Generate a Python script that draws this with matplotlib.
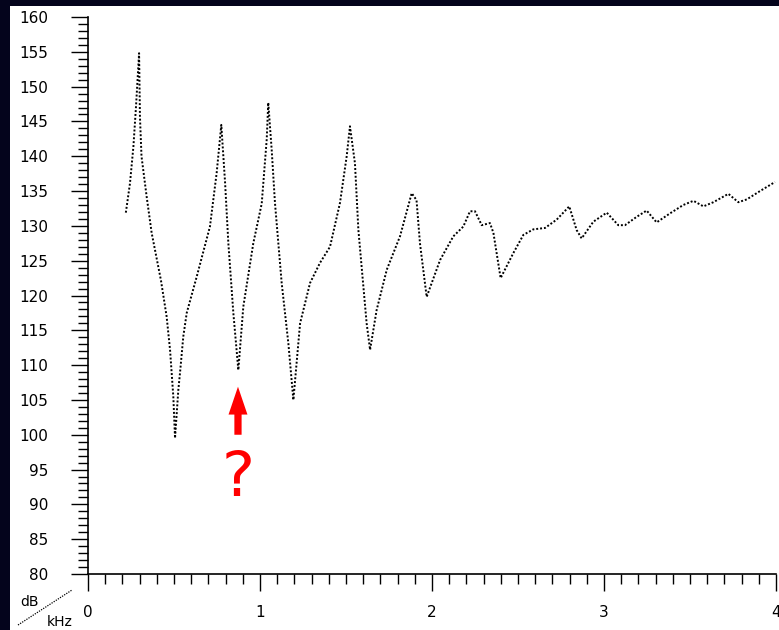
import matplotlib.pyplot as plt
import matplotlib.lines as mlines

# Data (kHz, dB)
freq = [0.22, 0.244, 0.264, 0.279, 0.297, 0.302, 0.311, 0.341, 0.37, 0.424, 0.457,
        0.477, 0.496, 0.506, 0.525, 0.535, 0.554, 0.574, 0.632, 0.709, 0.748, 0.775,
        0.797, 0.816, 0.845, 0.874, 0.903, 0.961, 1.01, 1.039, 1.048, 1.068, 1.087,
        1.126, 1.165, 1.194, 1.233, 1.291, 1.349, 1.407, 1.465, 1.504, 1.523, 1.552,
        1.572, 1.601, 1.62, 1.64, 1.678, 1.737, 1.814, 1.882, 1.91, 1.93, 1.969,
        2.047, 2.124, 2.182, 2.221, 2.25, 2.289, 2.337, 2.357, 2.399, 2.473, 2.531,
        2.589, 2.657, 2.725, 2.798, 2.841, 2.87, 2.938, 3.016, 3.083, 3.122, 3.19,
        3.248, 3.306, 3.384, 3.461, 3.52, 3.578, 3.636, 3.723, 3.781, 3.83, 3.907,
        3.994]
level = [131.9, 136.1, 141.4, 147.1, 154.8, 145.7, 140.0, 134.2, 129.0, 122.2, 117.0,
         112.2, 105.5, 99.5, 106.4, 108.9, 114.1, 117.5, 122.7, 129.9, 137.6, 144.5,
         136.2, 127.5, 117.5, 109.3, 118.4, 127.5, 133.2, 142.4, 147.7, 140.9, 133.3,
         121.8, 113.1, 105.0, 116.0, 121.8, 124.7, 127.0, 133.3, 140.0, 144.3, 139.0,
         129.4, 121.3, 116.0, 112.2, 117.9, 123.7, 128.5, 134.7, 133.7, 127.5, 119.8,
         125.1, 128.5, 129.9, 132.1, 132.1, 130.1, 130.4, 129.0, 122.5, 126.1, 128.7,
         129.5, 129.7, 130.9, 132.8, 129.4, 128.2, 130.6, 131.9, 130.1, 130.1, 131.3,
         132.2, 130.5, 131.8, 133.0, 133.6, 132.8, 133.4, 134.6, 133.4, 133.8, 135.0,
         136.3]

y_ticks = list(range(80, 161, 5))
x_ticks = [0, 1, 2, 3, 4]

W, H = 779, 630
fig = plt.figure(figsize=(W / 100, H / 100), dpi=100, facecolor='#04041c')

# white panel behind everything
fig.patches.append(plt.Rectangle((10 / W, 0), 1, 1 - 6 / H, transform=fig.transFigure,
                                 facecolor='white', edgecolor='none', zorder=-10))

ax = fig.add_axes([88 / W, (H - 574) / H, 688 / W, 557 / H])
ax.set_facecolor('none')
ax.set_xlim(0, 4)
ax.set_ylim(80, 160)

ax.plot(freq, level, color='black', lw=1.4, linestyle=(0, (1, 1.0)), clip_on=False)

# axes styling
for s in ['top', 'right']:
    ax.spines[s].set_visible(False)
for s in ['left', 'bottom']:
    ax.spines[s].set_linewidth(1.2)
ax.set_yticks(y_ticks)
ax.set_yticks(range(80, 161), minor=True)
ax.set_xticks(x_ticks)
ax.set_xticks([i / 10 for i in range(41)], minor=True)
ax.tick_params(which='major', direction='out', length=12.5, width=1.0, labelsize=11)
ax.tick_params(which='minor', direction='out', length=7, width=1.0)
ax.tick_params(axis='y', which='major', pad=16)
ax.tick_params(axis='x', which='major', pad=10)

# red arrow and question mark
ax.arrow(0.872, 100.0, 0, 6.9, width=0.042, head_width=0.11, head_length=4.0,
         length_includes_head=True, color='red', ec='none')
ax.text(0.872, 93.7, '?', color='red', fontsize=45, ha='center', va='center')

# dB / kHz corner label
fig.add_artist(mlines.Line2D([18 / W, 72 / W], [1 - 625 / H, 1 - 590 / H],
                             color='black', lw=0.9, linestyle=(0, (1, 1)),
                             transform=fig.transFigure))
fig.text(29.5 / W, 1 - 602 / H, 'dB', fontsize=10, ha='center', va='center')
fig.text(59.5 / W, 1 - 621.5 / H, 'kHz', fontsize=10, ha='center', va='center')

fig.savefig('out.png', dpi=100, facecolor=fig.get_facecolor())
